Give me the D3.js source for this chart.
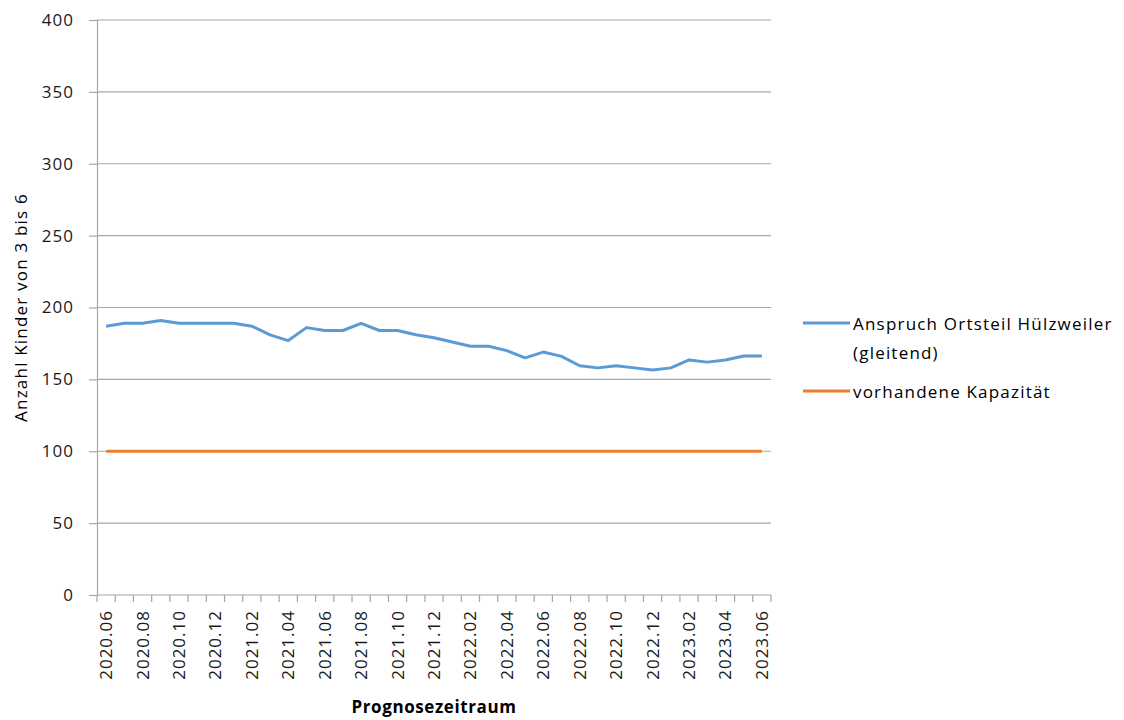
<!DOCTYPE html>
<html>
<head>
<meta charset="utf-8">
<script src="https://cdn.jsdelivr.net/npm/d3@7"></script>
<style>
  body { margin: 0; background: #fff; }
  svg { display: block; font-family: "Open Sans", "Noto Sans", sans-serif; }
</style>
</head>
<body>
<svg width="1124" height="720"></svg>
<script>
// months 2020.06 .. 2023.06
const months = ["2020.06","2020.07","2020.08","2020.09","2020.10","2020.11","2020.12",
  "2021.01","2021.02","2021.03","2021.04","2021.05","2021.06","2021.07","2021.08","2021.09","2021.10","2021.11","2021.12",
  "2022.01","2022.02","2022.03","2022.04","2022.05","2022.06","2022.07","2022.08","2022.09","2022.10","2022.11","2022.12",
  "2023.01","2023.02","2023.03","2023.04","2023.05","2023.06"]

const anspruch = [187, 189, 189, 191, 189, 189, 189, 189, 187, 181, 177, 186, 184, 184, 189, 184, 184, 181,
  179, 176, 173, 173, 170, 165, 169, 166, 159.5, 158, 159.5, 158, 156.5, 158, 163.5, 162, 163.5, 166.3, 166.3]

const kapazitaet = [100, 100, 100, 100, 100, 100, 100, 100, 100, 100, 100, 100, 100, 100, 100, 100, 100, 100,
  100, 100, 100, 100, 100, 100, 100, 100, 100, 100, 100, 100, 100, 100, 100, 100, 100, 100, 100]

const yTicks = [0, 50, 100, 150, 200, 250, 300, 350, 400]

const seriesNames = ["Anspruch Ortsteil Hülzweiler", "vorhandene Kapazität"]
const colors = ["#5b9bd5", "#ed7d31"]

const svg = d3.select('svg')
const margin = {left: 97, right: 353, top: 20, bottom: 125}
const width = 1124 - margin.left - margin.right
const height = 720 - margin.top - margin.bottom

const g = svg.append('g').attr('transform', `translate(${margin.left},${margin.top})`)

const x = d3.scaleBand().domain(months).range([0, width])
const y = d3.scaleLinear().domain([0, 400]).range([height, 0])

// gridlines
g.append('g')
  .selectAll('line')
  .data(yTicks.filter(d => d > 0))
  .join('line')
  .attr('x1', 0).attr('x2', width)
  .attr('y1', d => y(d)).attr('y2', d => y(d))
  .attr('stroke', '#a6a6a6').attr('stroke-width', 1.2)

// y axis
const yAxis = g.append('g')
  .call(d3.axisLeft(y).tickValues(yTicks).tickSize(8).tickPadding(15))
yAxis.select('.domain').attr('stroke', '#a6a6a6').attr('stroke-width', 1.2)
yAxis.selectAll('.tick line').attr('stroke', '#a6a6a6').attr('stroke-width', 1.2)
yAxis.selectAll('text')
  .attr('font-size', 17)
  .attr('letter-spacing', 1)
  .attr('font-family', '"Open Sans", sans-serif')
  .attr('fill', '#1a1a1a')

// x axis with tick marks between categories
const xAxis = g.append('g').attr('transform', `translate(0,${height})`)
xAxis.append('line')
  .attr('x1', 0).attr('x2', width)
  .attr('stroke', '#a6a6a6').attr('stroke-width', 1.2)
xAxis.selectAll('.sep')
  .data(months.concat(['end']))
  .join('line')
  .attr('class', 'sep')
  .attr('x1', (d, i) => i * x.step()).attr('x2', (d, i) => i * x.step())
  .attr('y1', 0).attr('y2', 7)
  .attr('stroke', '#a6a6a6').attr('stroke-width', 1.2)
xAxis.selectAll('.lbl')
  .data(months.filter((d, i) => i % 2 === 0))
  .join('text')
  .attr('class', 'lbl')
  .attr('transform', d => `translate(${x(d) + x.bandwidth() / 2 + 6},${15}) rotate(-90)`)
  .attr('text-anchor', 'end')
  .attr('font-size', 17)
  .attr('letter-spacing', 1)
  .attr('fill', '#1a1a1a')
  .text(d => d)

// lines
const line = d3.line()
  .x((d, i) => x(months[i]) + x.bandwidth() / 2)
  .y(d => y(d))

g.append('path')
  .datum(kapazitaet)
  .attr('fill', 'none')
  .attr('stroke', colors[1])
  .attr('stroke-width', 3)
  .attr('d', line)

g.append('path')
  .datum(anspruch)
  .attr('fill', 'none')
  .attr('stroke', colors[0])
  .attr('stroke-width', 3)
  .attr('stroke-linejoin', 'round')
  .attr('d', line)

// axis titles
svg.append('text')
  .attr('transform', `translate(27,${margin.top + height / 2}) rotate(-90)`)
  .attr('text-anchor', 'middle')
  .attr('font-size', 17)
  .attr('letter-spacing', 1.2)
  .attr('fill', '#000')
  .text('Anzahl Kinder von 3 bis 6')

svg.append('text')
  .attr('x', margin.left + width / 2)
  .attr('y', 713)
  .attr('text-anchor', 'middle')
  .attr('font-size', 17)
  .attr('letter-spacing', 0.6)
  .attr('font-weight', 'bold')
  .attr('fill', '#000')
  .text('Prognosezeitraum')

// legend
const legend = svg.append('g')
const legY = [323, 391]
legend.selectAll('line')
  .data(seriesNames)
  .join('line')
  .attr('x1', 803).attr('x2', 850)
  .attr('y1', (d, i) => legY[i]).attr('y2', (d, i) => legY[i])
  .attr('stroke', (d, i) => colors[i])
  .attr('stroke-width', 3)

const legText = [[seriesNames[0], 330], ['(gleitend)', 359], [seriesNames[1], 398]]
legend.selectAll('text')
  .data(legText)
  .join('text')
  .attr('x', 853).attr('y', d => d[1])
  .attr('font-size', 17).attr('letter-spacing', 1.2).attr('fill', '#000')
  .text(d => d[0])
</script>
</body>
</html>
